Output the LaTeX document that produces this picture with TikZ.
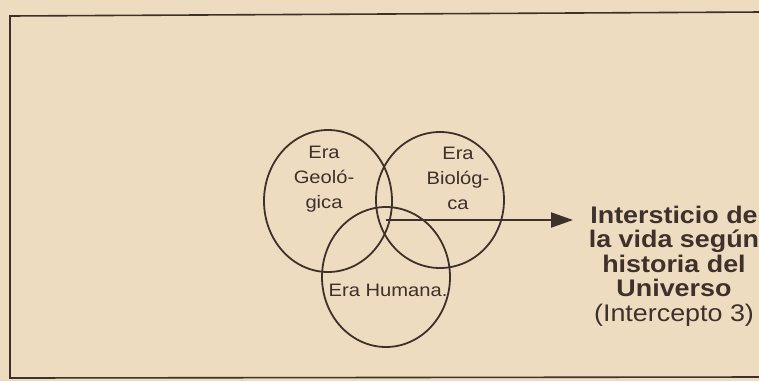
\documentclass[tikz,border=0pt]{standalone}
\usepackage{fontspec}
\setmainfont{Liberation Sans}[FakeStretch=1.12]
\usepackage{xcolor}
\usepackage{tikz}
\usetikzlibrary{shapes.geometric, arrows.meta, positioning}

\definecolor{paper}{HTML}{EEDCC0}
\definecolor{ink}{HTML}{3E302B}

\begin{document}
\begin{tikzpicture}[
    x=1pt, y=-1pt,
    circ/.style={ellipse, draw=ink, line width=1.8pt, inner sep=0pt, minimum width=128pt},
    lbl/.style={text=ink, align=center, inner sep=0pt, font=\fontsize{18}{25}\selectfont},
    note/.style={text=ink, align=center, inner sep=0pt, font=\fontsize{24}{24.5}\selectfont},
    arrow/.style={-{Triangle[length=22pt,width=15pt]}, draw=ink, line width=2pt}
]
\useasboundingbox (0,0) rectangle (759,381);
\fill[paper] (0,0) rectangle (759,381);

% frame, open to the right
\draw[ink, line width=1.6pt] (762,12) -- (10,16) -- (10,378) -- (762,377);

\node (geo) [circ, minimum height=142pt] at (328,201) {};
\node (bio) [circ, minimum height=136pt] at (440,200) {};
\node (hum) [circ, minimum height=140pt] at (386,277) {};

\node (geolbl) [lbl] at (324,179) {Era\\Geoló-\\gica};
\node (biolbl) [lbl] at (458,178) {Era\\Biológ-\\ca};
\node (humlbl) [lbl] at (388,290) {Era Humana.};

\node (txt) [note] at (674,266) {\textbf{Intersticio de}\\\textbf{la vida según}\\\textbf{historia del}\\\textbf{Universo}\\(Intercepto 3)};

\coordinate (start) at (386,220);
\coordinate (tip) at (573,220);
\draw [arrow] (start) -- (tip);

\end{tikzpicture}
\end{document}
